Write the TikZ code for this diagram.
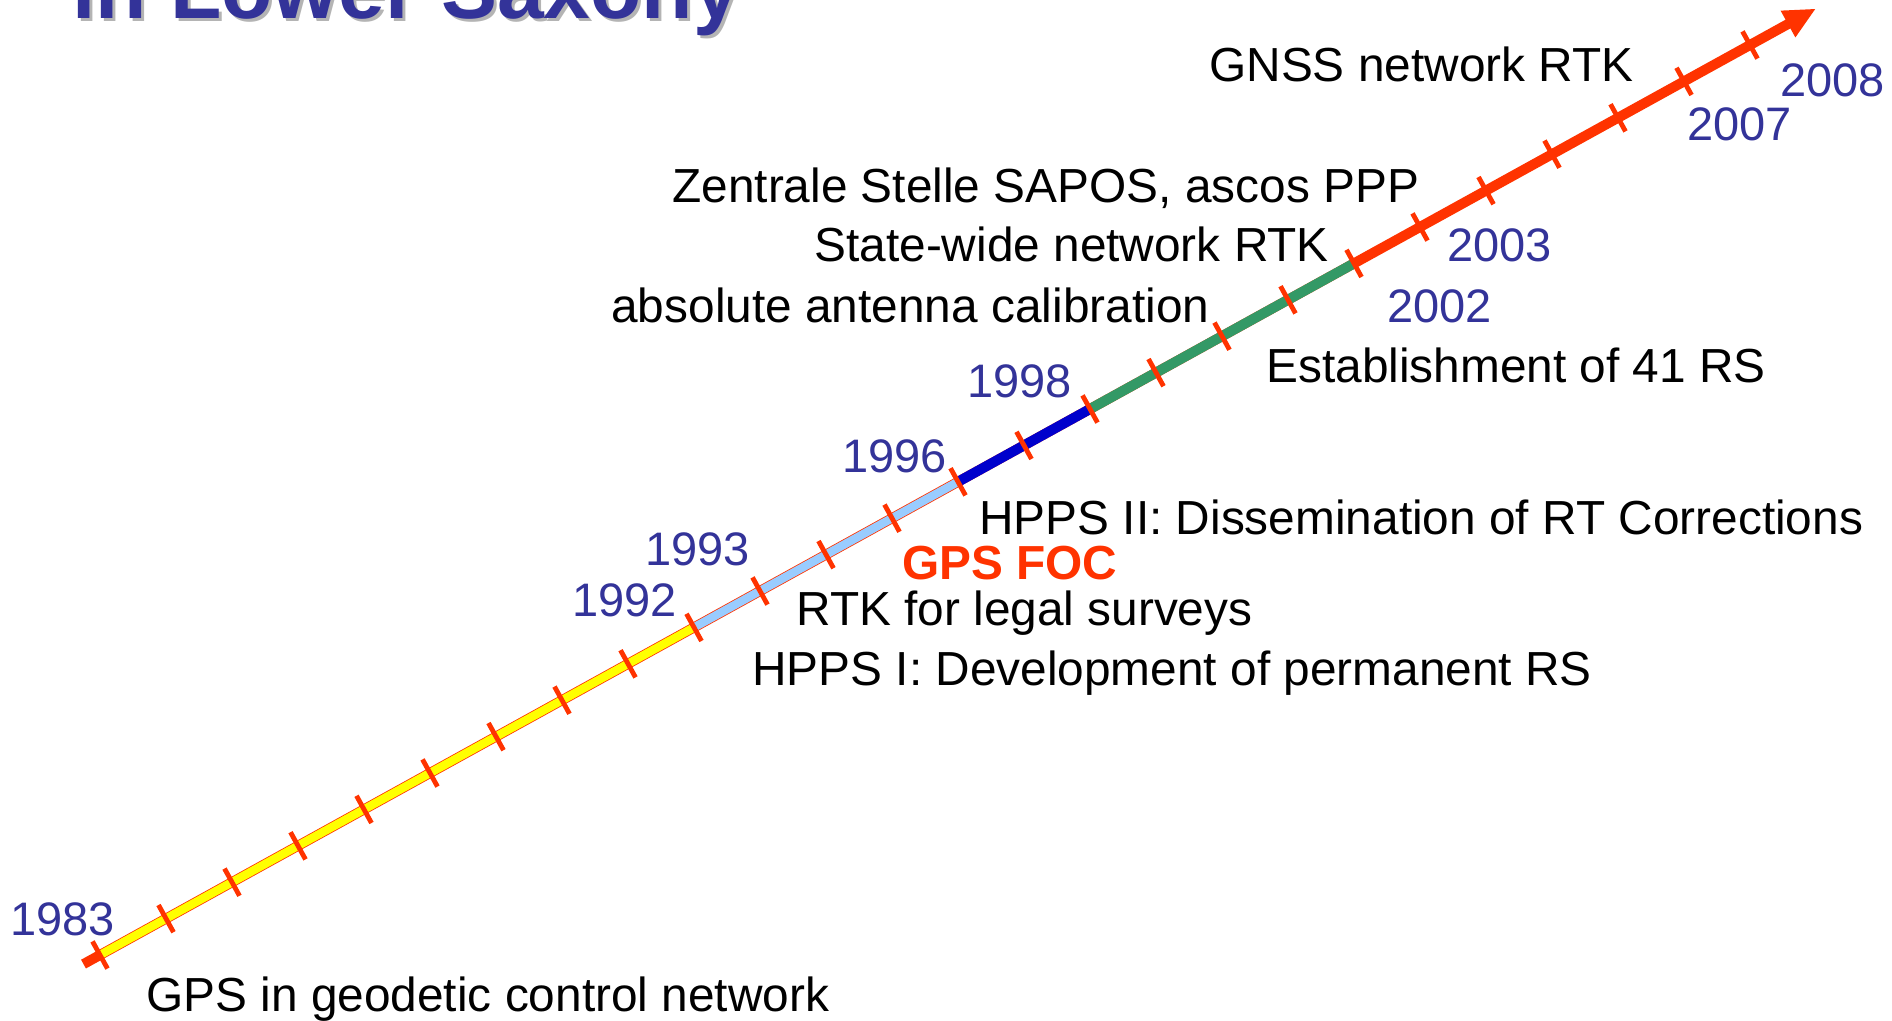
\documentclass[tikz,border=0pt]{standalone}
\usepackage{fontspec}
\setmainfont{Liberation Sans}
\usetikzlibrary{arrows.meta,calc}

\definecolor{yearblue}{HTML}{333399}
\definecolor{axisred}{HTML}{FF3300}
\definecolor{segyellow}{HTML}{FFFF00}
\definecolor{seglight}{HTML}{99CCFF}
\definecolor{segdark}{HTML}{0000CC}
\definecolor{seggreen}{HTML}{339966}
\definecolor{shadowgrey}{HTML}{B4B4B4}

\tikzset{
  axisline/.style={draw=axisred, line width=5pt,
    -{Triangle[length=16pt,width=14pt]}},
  segthin/.style={line width=4.2pt},
  segwide/.style={line width=5pt},
  yeartick/.style={draw=axisred, line width=2.4pt},
  yearlabel/.style={anchor=base west, inner sep=0pt, text=yearblue,
    font=\fontsize{23.5pt}{28pt}\selectfont},
  eventlabel/.style={anchor=base west, inner sep=0pt, text=black,
    font=\fontsize{23.9pt}{28pt}\selectfont},
  foclabel/.style={eventlabel, text=axisred, font=\fontsize{23.9pt}{28pt}\selectfont\bfseries},
  titletext/.style={anchor=base west, inner sep=0pt, text=yearblue,
    font=\fontsize{42pt}{48pt}\selectfont\bfseries},
  titleshadow/.style={titletext, text=shadowgrey}
}

\begin{document}
\begin{tikzpicture}[x=0.5pt,y=-0.5pt]
\useasboundingbox (0,0) rectangle (1892,1021);

% one position per year along the time axis
\foreach \yr in {1983,...,2009}
  \coordinate (t\yr) at ({100+66*(\yr-1983)},{955-36.4*(\yr-1983)});
\coordinate (start) at (83.5,964.1);

% base axis with arrow head
\draw[axisline] (start) -- (t2009);

% coloured periods
\draw[segyellow, segthin] (t1983) -- (t1992);
\draw[seglight, segthin] (t1992) -- (t1996);
\draw[segdark, segwide] (t1996) -- (t1998);
\draw[seggreen, segwide] (t1998) -- (t2002);

% yearly ticks
\foreach \yr in {1983,...,2008}
  \draw[yeartick] ($(t\yr)+(-7.5,-13.6)$) -- ($(t\yr)+(7.5,13.6)$);

% title (partly outside the page)
\node[titleshadow] (titleS) at (75,22) {in Lower Saxony};
\node[titletext] (title) at (72,19) {in Lower Saxony};

% year labels
\node[yearlabel] (l1983) at (10,935) {1983};
\node[yearlabel] (l1992) at (572,617) {1992};
\node[yearlabel] (l1993) at (645,566) {1993};
\node[yearlabel] (l1996) at (842,473) {1996};
\node[yearlabel] (l1998) at (967,398) {1998};
\node[yearlabel] (l2002) at (1387,323) {2002};
\node[yearlabel] (l2003) at (1447,262) {2003};
\node[yearlabel] (l2007) at (1687,141) {2007};
\node[yearlabel] (l2008) at (1780,97) {2008};

% events
\node[eventlabel] (e1983) at (146,1011.5) {GPS in geodetic control network};
\node[eventlabel] (hpps1) at (752,686) {HPPS I: Development of permanent RS};
\node[eventlabel] (rtklegal) at (796,625) {RTK for legal surveys};
\node[foclabel] (foc) at (902,580) {GPS FOC};
\node[eventlabel] (hpps2) at (979,535) {HPPS II: Dissemination of RT Corrections};
\node[eventlabel] (rs41) at (1266,383) {Establishment of 41 RS};
\node[eventlabel] (antcal) at (611,323) {absolute antenna calibration};
\node[eventlabel] (statewide) at (814,262) {State-wide network RTK};
\node[eventlabel] (zentrale) at (672,203) {Zentrale Stelle SAPOS, ascos PPP};
\node[eventlabel] (gnss) at (1209,82) {GNSS network RTK};
\end{tikzpicture}
\end{document}
